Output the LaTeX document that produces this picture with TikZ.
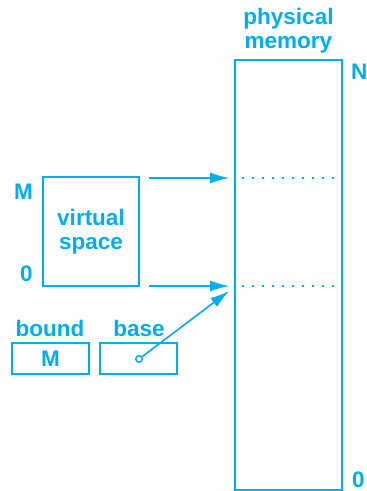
\documentclass[tikz,border=0pt]{standalone}
\usepackage{fontspec}
\setmainfont{Liberation Sans}
\usetikzlibrary{arrows.meta}
\definecolor{ocyan}{RGB}{0,174,239}
\begin{document}
\begin{tikzpicture}[x=1pt,y=-1pt,
  every node/.style={text=ocyan,font=\fontsize{22.5}{24}\selectfont\bfseries},
  boxst/.style={draw=ocyan,line width=1.6pt,inner sep=0pt,minimum width=#1},
  arr/.style={draw=ocyan,line width=1.6pt,-{Latex[length=19pt,width=11pt]}},
  dots/.style={draw=ocyan,line width=1.5pt,dash pattern=on 1.5pt off 8.5pt}]
\useasboundingbox (0,0) rectangle (367,491);
% physical memory
\node[boxst=107pt,minimum height=430pt] (pm) at (288.5,275) {};
\node[align=center] (pmlbl) at (288.5,30.5) {physical\\memory};
\node[anchor=west,inner sep=0pt] (N) at (351,71.5) {N};
\node[anchor=west,inner sep=0pt] (pz) at (352,479.5) {0};
% virtual space
\node[boxst=96pt,minimum height=109pt,align=center] (vs) at (91,231.5) {virtual\\space};
\node[inner sep=0pt] (vM) at (23.5,191.5) {M};
\node[inner sep=0pt] (vz) at (26.5,273.5) {0};
% registers
\node[anchor=base] (bl) at (50,336) {bound};
\node[anchor=base] (bal) at (139,336) {base};
\node[boxst=77pt,minimum height=31pt] (bb) at (50.5,358.5) {M};
\node[boxst=77pt,minimum height=31pt] (bab) at (138.5,358.5) {};
\node[circle,draw=ocyan,line width=1.5pt,minimum size=6.5pt,inner sep=0pt] (dot) at (139,359) {};
% coordinates
\coordinate (t1) at (149,178);
\coordinate (t2) at (149,286);
\coordinate (tip3) at (229,291);
% arrows
\draw[arr] (t1) -- ([xshift=-5pt]t1 -| pm.west);
\draw[arr] (t2) -- ([xshift=-5pt]t2 -| pm.west);
\draw[arr] (dot) -- (tip3);
% dotted lines
\draw[dots] ([xshift=8pt]t1 -| pm.west) -- ([xshift=-6pt]t1 -| pm.east);
\draw[dots] ([xshift=8pt]t2 -| pm.west) -- ([xshift=-6pt]t2 -| pm.east);
\end{tikzpicture}
\end{document}
